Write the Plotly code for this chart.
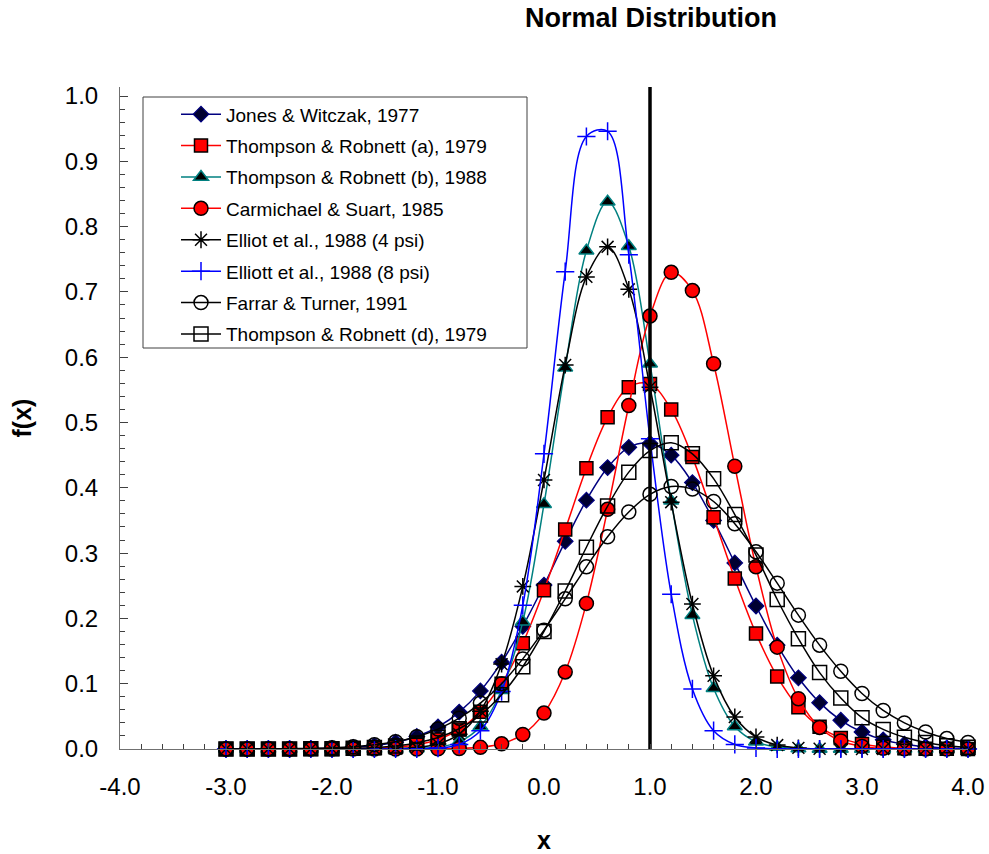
import plotly.graph_objects as go

# ---------------- data ----------------
x_vals = [-3.0, -2.8, -2.6, -2.4, -2.2, -2.0, -1.8, -1.6, -1.4, -1.2, -1.0, -0.8,
          -0.6, -0.4, -0.2, 0.0, 0.2, 0.4, 0.6, 0.8, 1.0, 1.2, 1.4, 1.6,
          1.8, 2.0, 2.2, 2.4, 2.6, 2.8, 3.0, 3.2, 3.4, 3.6, 3.8, 4.0]

jones_witczak_1977 = [0.000, 0.000, 0.000, 0.000, 0.0005, 0.001, 0.0025, 0.0052, 0.0103, 0.0192, 0.0338, 0.0565,
                      0.089, 0.133, 0.188, 0.251, 0.318, 0.381, 0.431, 0.462, 0.468, 0.450, 0.408, 0.350,
                      0.285, 0.219, 0.159, 0.109, 0.071, 0.044, 0.026, 0.014, 0.0074, 0.0036, 0.0017, 0.0008]

thompson_robnett_a_1979 = [0.000, 0.000, 0.000, 0.000, 0.000, 0.0001, 0.0004, 0.001, 0.0027, 0.0065, 0.0145, 0.030,
                           0.057, 0.100, 0.162, 0.243, 0.336, 0.430, 0.508, 0.554, 0.559, 0.520, 0.447, 0.355,
                           0.261, 0.177, 0.111, 0.064, 0.034, 0.017, 0.0077, 0.0032, 0.0013, 0.0005, 0.0002, 0.000]

thompson_robnett_b_1988 = [0.000, 0.000, 0.000, 0.000, 0.000, 0.000, 0.000, 0.000, 0.0001, 0.0006, 0.0029, 0.011,
                           0.0345, 0.090, 0.195, 0.375, 0.584, 0.763, 0.838, 0.770, 0.590, 0.380, 0.205, 0.093,
                           0.0345, 0.011, 0.0029, 0.0006, 0.0001, 0.000, 0.000, 0.000, 0.000, 0.000, 0.000, 0.000]

carmichael_suart_1985 = [0.000, 0.000, 0.000, 0.000, 0.000, 0.000, 0.000, 0.000, 0.000, 0.000, 0.0002, 0.0007,
                         0.0025, 0.0079, 0.0223, 0.055, 0.118, 0.223, 0.367, 0.526, 0.663, 0.730, 0.702, 0.590,
                         0.433, 0.279, 0.156, 0.077, 0.033, 0.0122, 0.004, 0.0011, 0.0003, 0.0001, 0.000, 0.000]

elliot_1988_4psi = [0.000, 0.000, 0.000, 0.000, 0.000, 0.000, 0.000, 0.0001, 0.0005, 0.0022, 0.0076, 0.0227,
                    0.058, 0.130, 0.249, 0.412, 0.588, 0.723, 0.769, 0.704, 0.554, 0.378, 0.222, 0.112,
                    0.049, 0.0184, 0.006, 0.0017, 0.0004, 0.0001, 0.000, 0.000, 0.000, 0.000, 0.000, 0.000]

elliott_1988_8psi = [0.000, 0.000, 0.000, 0.000, 0.000, 0.000, 0.000, 0.000, 0.000, 0.0002, 0.0014, 0.007,
                     0.028, 0.088, 0.220, 0.452, 0.731, 0.938, 0.946, 0.757, 0.475, 0.237, 0.092, 0.028,
                     0.007, 0.0017, 0.0003, 0.000, 0.000, 0.000, 0.000, 0.000, 0.000, 0.000, 0.000, 0.000]

farrar_turner_1991 = [0.000, 0.0001, 0.0002, 0.0005, 0.0009, 0.0018, 0.0035, 0.0064, 0.0112, 0.0188, 0.0305, 0.0472,
                      0.0703, 0.100, 0.138, 0.182, 0.230, 0.279, 0.325, 0.363, 0.390, 0.402, 0.398, 0.379,
                      0.345, 0.302, 0.254, 0.205, 0.159, 0.119, 0.085, 0.059, 0.040, 0.026, 0.016, 0.010]

thompson_robnett_d_1979 = [0.000, 0.000, 0.000, 0.0001, 0.0002, 0.0004, 0.0010, 0.0022, 0.0047, 0.0093, 0.0175, 0.031,
                           0.052, 0.083, 0.126, 0.180, 0.242, 0.309, 0.372, 0.424, 0.457, 0.469, 0.452, 0.414,
                           0.359, 0.297, 0.229, 0.169, 0.117, 0.078, 0.048, 0.030, 0.018, 0.010, 0.005, 0.0025]

ref_x = [1.0, 1.0]
y_axis_max = 1.0138
ref_y = [0.0, y_axis_max]

x_tick_vals = [-4.0, -3.0, -2.0, -1.0, 0.0, 1.0, 2.0, 3.0, 4.0]
x_tick_labels = ["-4.0", "-3.0", "-2.0", "-1.0", "0.0", "1.0", "2.0", "3.0", "4.0"]
y_tick_vals = [0.0, 0.1, 0.2, 0.3, 0.4, 0.5, 0.6, 0.7, 0.8, 0.9, 1.0]
y_tick_labels = ["0.0", "0.1", "0.2", "0.3", "0.4", "0.5", "0.6", "0.7", "0.8", "0.9", "1.0"]

series_names = ["Jones & Witczak, 1977",
                "Thompson & Robnett (a), 1979",
                "Thompson & Robnett (b), 1988",
                "Carmichael & Suart, 1985",
                "Elliot et al., 1988 (4 psi)",
                "Elliott et al., 1988 (8 psi)",
                "Farrar & Turner, 1991",
                "Thompson & Robnett (d), 1979"]
series_values = [jones_witczak_1977, thompson_robnett_a_1979, thompson_robnett_b_1988,
                 carmichael_suart_1985, elliot_1988_4psi, elliott_1988_8psi,
                 farrar_turner_1991, thompson_robnett_d_1979]

# ---------------- styles ----------------
styles = [
    dict(line="#000080", symbol="diamond", size=12, fill="#000030", mline="#000080", mw=1.2),
    dict(line="#FF0000", symbol="square", size=13, fill="#FF0000", mline="#000000", mw=1.5),
    dict(line="#008080", symbol="triangle-up", size=13, fill="#000000", mline="#008080", mw=1.5),
    dict(line="#FF0000", symbol="circle", size=14, fill="#FF0000", mline="#000000", mw=1.5),
    dict(line="#000000", symbol="asterisk-open", size=14, fill="#000000", mline="#000000", mw=1.5),
    dict(line="#0000FF", symbol="cross-thin-open", size=13, fill="#0000FF", mline="#0000FF", mw=1.5),
    dict(line="#000000", symbol="circle-open", size=14, fill="#000000", mline="#000000", mw=1.5),
    dict(line="#000000", symbol="square-open", size=14, fill="#000000", mline="#000000", mw=1.5),
]

FONT = "Arial, 'Liberation Sans', sans-serif"

# plot area in pixels
W, H = 989, 854
L, R, T, B = 120, 21, 87, 105
pw, ph = W - L - R, H - T - B

def px_to_paper_x(px):
    return (px - L) / pw

def px_to_paper_y(py):
    return (H - B - py) / ph

fig = go.Figure()

legend_rows_px = [114.3, 145.7, 177.1, 208.5, 239.9, 271.3, 302.7, 334.1]
legend_left_px = 176

for i, (name, vals, st) in enumerate(zip(series_names, series_values, styles)):
    lg = "legend" if i == 0 else f"legend{i+1}"
    fig.add_trace(go.Scatter(
        x=x_vals, y=vals, name=name, mode="lines+markers",
        line=dict(color=st["line"], width=1.5, shape="spline", smoothing=1.0),
        marker=dict(symbol=st["symbol"], size=st["size"], color=st["fill"],
                    line=dict(color=st["mline"], width=st["mw"])),
        cliponaxis=False, legend=lg,
    ))

fig.add_trace(go.Scatter(x=ref_x, y=ref_y, mode="lines", showlegend=False,
                         line=dict(color="black", width=3.5), hoverinfo="skip"))

layout_legends = {}
for i in range(8):
    key = "legend" if i == 0 else f"legend{i+1}"
    layout_legends[key] = dict(
        x=px_to_paper_x(legend_left_px), xanchor="left",
        y=px_to_paper_y(legend_rows_px[i]), yanchor="middle",
        bgcolor="rgba(0,0,0,0)", borderwidth=0,
        font=dict(family=FONT, size=19, color="black"),
        itemwidth=40, itemsizing="trace",
    )

fig.update_layout(
    width=W, height=H,
    margin=dict(l=L, r=R, t=T, b=B, pad=0, autoexpand=False),
    paper_bgcolor="white", plot_bgcolor="white",
    font=dict(family=FONT, color="black"),
    title=dict(text="<b>Normal Distribution</b>", x=651 / W, xanchor="center",
               y=1 - 18 / H, yanchor="middle", xref="container", yref="container",
               font=dict(family=FONT, size=27, color="black")),
    showlegend=True,
    shapes=[dict(type="rect", xref="paper", yref="paper",
                 x0=px_to_paper_x(143), x1=px_to_paper_x(527),
                 y0=px_to_paper_y(348), y1=px_to_paper_y(97),
                 line=dict(color="#404040", width=1), fillcolor="rgba(255,255,255,0)",
                 layer="below")],
    **layout_legends,
)

fig.update_xaxes(
    range=[-4, 4], tickmode="array", tickvals=x_tick_vals, ticktext=x_tick_labels,
    automargin=False,
    showgrid=False, zeroline=False,
    showline=True, linecolor="#707070", linewidth=1,
    ticks="inside", ticklen=5, tickcolor="#404040", tickwidth=1,
    minor=dict(dtick=0.2, tick0=-4, ticks="inside", ticklen=5, tickcolor="#404040", showgrid=False),
    tickfont=dict(family=FONT, size=24, color="black"),
    ticklabelstandoff=16,
    title=dict(text="<b>x</b>", font=dict(family=FONT, size=25, color="black"), standoff=36),
)
fig.update_yaxes(
    range=[0, y_axis_max], tickmode="array", tickvals=y_tick_vals, ticktext=y_tick_labels,
    automargin=False,
    showgrid=False, zeroline=False,
    showline=True, linecolor="#707070", linewidth=1,
    ticks="inside", ticklen=8, tickcolor="#404040", tickwidth=1,
    minor=dict(dtick=0.02, tick0=0, ticks="inside", ticklen=5, tickcolor="#404040", showgrid=False),
    tickfont=dict(family=FONT, size=24, color="black"),
    ticklabelstandoff=16,
    title=dict(text="<b>f(x)</b>", font=dict(family=FONT, size=25, color="black"), standoff=26),
)

fig.write_html("out.html")
